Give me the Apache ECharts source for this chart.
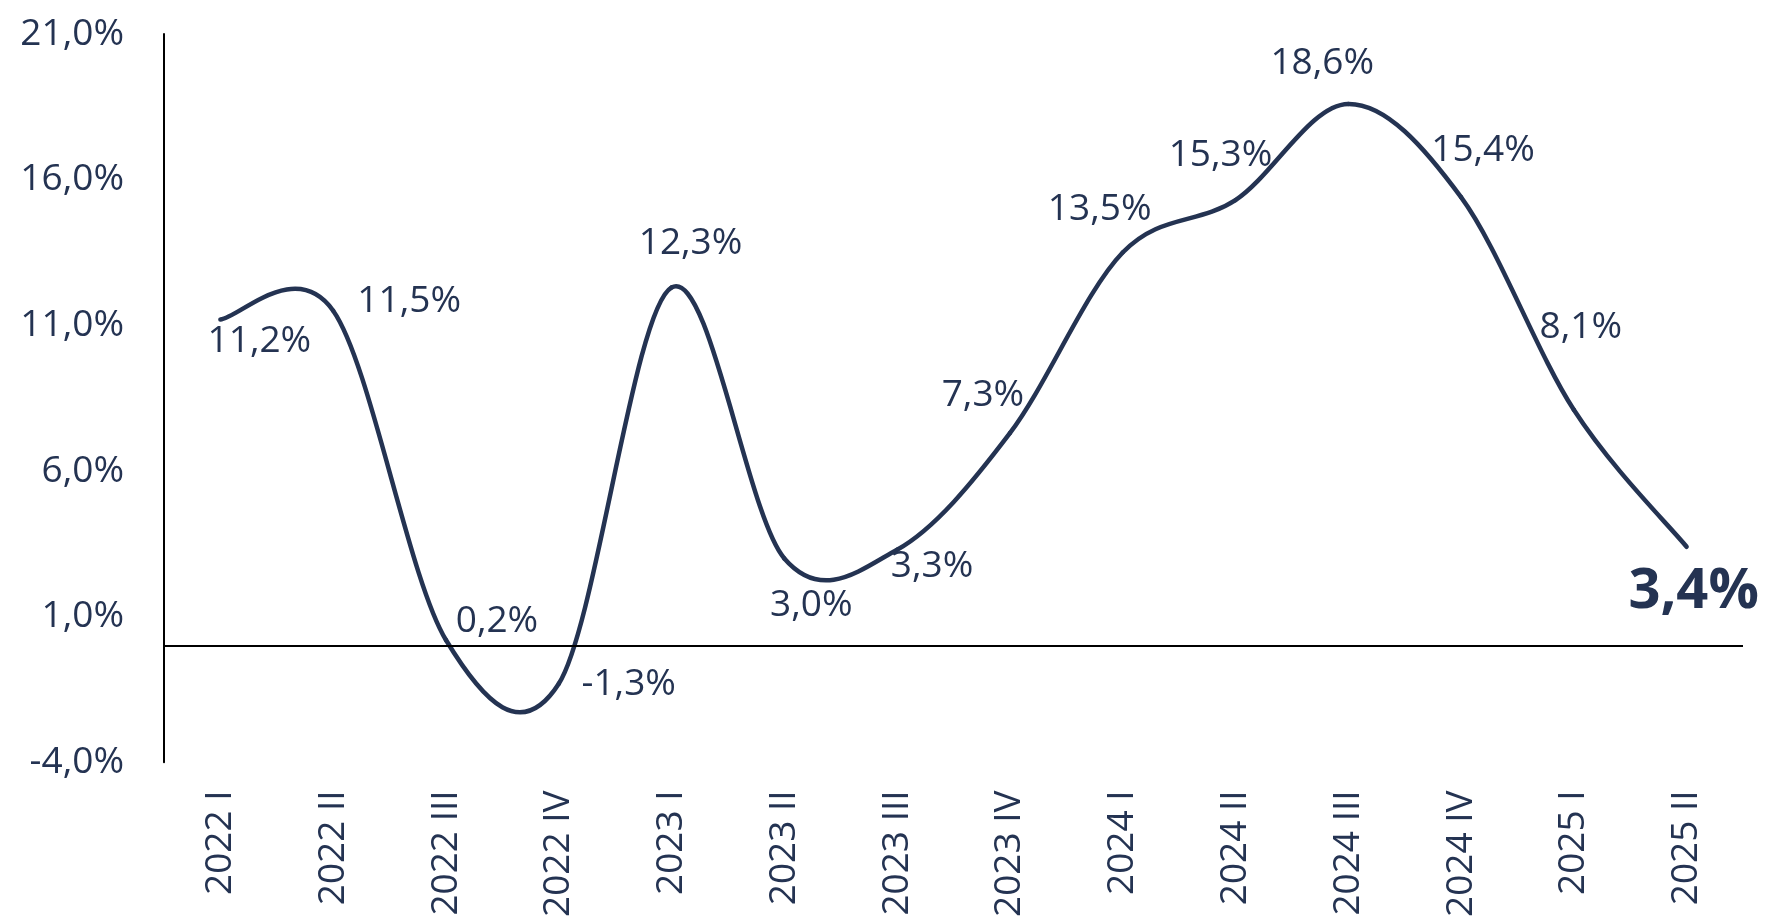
<!DOCTYPE html>
<html>
<head>
<meta charset="utf-8">
<script src="https://cdn.jsdelivr.net/npm/echarts@6/dist/echarts.min.js"></script>
<style>
  html, body { margin: 0; padding: 0; background: #fff; }
  #chart { width: 1767px; height: 920px; }
</style>
</head>
<body>
<div id="chart"></div>
<script>
  const quarters = ['2022 I', '2022 II', '2022 III', '2022 IV', '2023 I', '2023 II', '2023 III', '2023 IV',
    '2024 I', '2024 II', '2024 III', '2024 IV', '2025 I', '2025 II']
  const growth = [11.2, 11.5, 0.2, -1.3, 12.3, 3.0, 3.3, 7.3, 13.5, 15.3, 18.6, 15.4, 8.1, 3.4]
  const yTicks = { min: -4, max: 21, interval: 5 }

  // where each value label sits relative to its point (px)
  const labelOffsets = [[39, 22], [76, -9], [51, -19], [70, 1], [19, -44], [27, 47], [35, 17],
    [-27, -38], [-23, -43], [-15, -45], [-26, -40], [22, -47], [7, -82], [7, 45]]

  const navy = '#243352'
  const font = 'Open Sans'
  const fmt = v => v.toFixed(1).replace('.', ',') + '%'

  const myChart = echarts.init(document.getElementById('chart'))

  const labelData = growth.map((v, i) => {
    const last = i === growth.length - 1
    return {
      value: v,
      label: {
        offset: labelOffsets[i],
        fontSize: last ? 56 : 37,
        fontWeight: last ? 'bold' : 'normal'
      }
    }
  })

  // excel style smoothed line: bezier between points, control points from neighbours
  function renderCurve(params, api) {
    const i = params.dataIndex
    const n = growth.length
    if (i >= n - 1) return null
    const p = k => {
      const j = Math.max(0, Math.min(n - 1, k))
      return api.coord([j, growth[j]])
    }
    const a = p(i - 1), b = p(i), c = p(i + 1), d = p(i + 2)
    return {
      type: 'bezierCurve',
      silent: true,
      shape: {
        x1: b[0], y1: b[1],
        cpx1: b[0] + (c[0] - a[0]) / 6, cpy1: b[1] + (c[1] - a[1]) / 6,
        cpx2: c[0] - (d[0] - b[0]) / 6, cpy2: c[1] - (d[1] - b[1]) / 6,
        x2: c[0], y2: c[1]
      },
      style: { stroke: navy, lineWidth: 4.5, fill: 'none', lineCap: 'round' }
    }
  }

  myChart.setOption({
    backgroundColor: '#fff',
    animation: false,
    grid: {
      left: 164,
      right: 24,
      top: 34,
      bottom: 153
    },
    xAxis: {
      type: 'category',
      data: quarters,
      axisLine: { show: false, onZero: false },
      axisTick: { show: false },
      axisLabel: {
        rotate: 90,
        margin: 28,
        color: navy,
        fontSize: 37,
        fontFamily: font
      }
    },
    yAxis: {
      type: 'value',
      min: yTicks.min,
      max: yTicks.max,
      interval: yTicks.interval,
      splitLine: { show: false },
      axisTick: { show: false },
      axisLine: { show: true, lineStyle: { color: '#000', width: 2 } },
      axisLabel: {
        margin: 40,
        color: navy,
        fontSize: 37,
        fontFamily: font,
        formatter: fmt
      }
    },
    series: [
      {
        type: 'line',
        data: labelData,
        symbol: 'circle',
        symbolSize: 2,
        itemStyle: { color: 'rgba(0,0,0,0)' },
        lineStyle: { width: 0, opacity: 0 },
        label: {
          show: true,
          position: 'inside',
          color: navy,
          fontFamily: font,
          formatter: p => fmt(p.value)
        },
        markLine: {
          silent: true,
          symbol: ['none', 'none'],
          label: { show: false },
          lineStyle: { color: '#000', width: 2, type: 'solid' },
          data: [{ yAxis: 0 }]
        },
        z: 2
      },
      {
        type: 'custom',
        data: growth.map((v, i) => [i, v]),
        encode: { x: 0, y: 1 },
        renderItem: renderCurve,
        z: 3
      }
    ]
  })
</script>
</body>
</html>
